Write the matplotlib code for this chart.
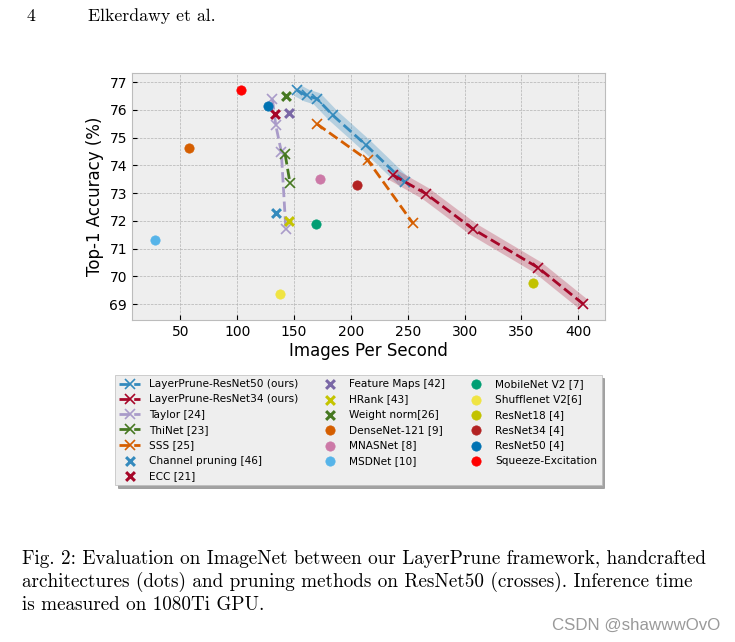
import numpy as np
import matplotlib
matplotlib.use("Agg")
import matplotlib.pyplot as plt

# LayerPrune curves (images/s, top-1 %)
lp50_x = [152.9, 161.0, 170.3, 184.3, 213.4, 247.4]
lp50_y = [76.70, 76.52, 76.40, 75.80, 74.73, 73.39]
lp34_x = [236.8, 266.0, 307.7, 364.9, 404.5]
lp34_y = [73.66, 72.98, 71.70, 70.31, 69.00]

# pruning methods with lines
taylor_x = [131.0, 134.0, 138.8, 142.8]
taylor_y = [76.38, 75.44, 74.50, 71.70]
thinet_x = [142.2, 146.5]
thinet_y = [74.40, 73.35]
sss_x = [170.3, 214.8, 254.5]
sss_y = [75.49, 74.19, 71.92]

# single pruning results (crosses)
cross_names = ["Channel pruning [46]", "ECC [21]", "Feature Maps [42]", "HRank [43]", "Weight norm[26]"]
cross_x = [134.3, 133.1, 145.6, 145.6, 143.0]
cross_y = [72.28, 75.86, 75.90, 72.00, 76.49]
cross_colors = ["#348ABD", "#A60628", "#7A68A6", "#C4C400", "#467821"]

# handcrafted architectures (dots)
dot_names = ["DenseNet-121 [9]", "MNASNet [8]", "MSDNet [10]", "MobileNet V2 [7]", "Shufflenet V2[6]",
             "ResNet18 [4]", "ResNet34 [4]", "ResNet50 [4]", "Squeeze-Excitation"]
dot_x = [58.0, 172.9, 27.7, 169.6, 137.8, 359.8, 205.7, 127.4, 103.3]
dot_y = [74.64, 73.51, 71.33, 71.88, 69.36, 69.76, 73.30, 76.15, 76.72]
dot_colors = ["#D55E00", "#CC79A7", "#56B4E9", "#009E73", "#F0E442", "#C2C200", "#B22222", "#0072B2", "#FF0000"]

xticks = [50, 100, 150, 200, 250, 300, 350, 400]
yticks = [69, 70, 71, 72, 73, 74, 75, 76, 77]

plt.style.use("bmh")
W, H = 735, 642
fig = plt.figure(figsize=(W / 100, H / 100), dpi=100)
fig.patch.set_facecolor("white")
ax = fig.add_axes([132 / W, 1 - 320 / H, (605 - 132) / W, (320 - 73) / H])

# bands behind our curves
ax.plot(lp50_x, lp50_y, color="#348ABD", lw=9, alpha=0.3, solid_capstyle="butt", zorder=2)
ax.plot(lp34_x, lp34_y, color="#A60628", lw=9, alpha=0.25, solid_capstyle="butt", zorder=2)

ax.plot(lp50_x, lp50_y, "--x", color="#348ABD", lw=2, ms=6.5, mew=1.2, label="LayerPrune-ResNet50 (ours)", zorder=4)
ax.plot(lp34_x, lp34_y, "--x", color="#A60628", lw=2, ms=6.5, mew=1.2, label="LayerPrune-ResNet34 (ours)", zorder=4)
ax.plot(taylor_x, taylor_y, "--x", color="#A99BC9", lw=2, ms=6.5, mew=1.2, label="Taylor [24]", zorder=3)
ax.plot(thinet_x, thinet_y, "--x", color="#467821", lw=2, ms=6.5, mew=1.2, label="ThiNet [23]", zorder=3)
ax.plot(sss_x, sss_y, "--x", color="#D55E00", lw=2, ms=6.5, mew=1.2, label="SSS [25]", zorder=3)

for n, x, y, c in zip(cross_names, cross_x, cross_y, cross_colors):
    ax.scatter([x], [y], marker="x", s=40, linewidths=2.2, color=c, label=n, zorder=5)
for n, x, y, c in zip(dot_names, dot_x, dot_y, dot_colors):
    ax.scatter([x], [y], marker="o", s=45, color=c, label=n, zorder=5)

ax.set_xlim(7.5, 423.5)
ax.set_ylim(68.43, 77.33)
ax.set_xticks(xticks)
ax.set_yticks(yticks)
ax.tick_params(labelsize=10)
ax.set_xlabel("Images Per Second", fontsize=12, labelpad=2)
ax.set_ylabel("Top-1 Accuracy (%)", fontsize=12)

leg = fig.legend(ncol=3, fontsize=7.6, loc="upper left", bbox_to_anchor=(115 / W, 1 - 375 / H),
                 borderaxespad=0, fancybox=False, shadow=True, frameon=True, handlelength=2.0,
                 handletextpad=0.8, columnspacing=2.0, labelspacing=0.5, borderpad=0.4)
leg.get_frame().set_facecolor("#eeeeee")
leg.get_frame().set_edgecolor("#bcbcbc")

serif = "cmr10"
fig.text(27 / W, 1 - 16 / H, "4", fontsize=12.8, family=serif, va="center")
fig.text(88 / W, 1 - 16 / H, "Elkerdawy et al.", fontsize=12.8, family=serif, va="center")

caption = ["Fig. 2: Evaluation on ImageNet between our LayerPrune framework, handcrafted",
           "architectures (dots) and pruning methods on ResNet50 (crosses). Inference time",
           "is measured on 1080Ti GPU."]
for i, line in enumerate(caption):
    fig.text(22 / W, 1 - (559 + 23 * i) / H, line, fontsize=13.8, family=serif, va="center")

fig.text(720 / W, 1 - 625 / H, "CSDN @shawwwOvO", fontsize=12.2, color="#9a9a9a",
         ha="right", va="center", family="Liberation Sans")

fig.savefig("out.png", dpi=100, facecolor="white")
